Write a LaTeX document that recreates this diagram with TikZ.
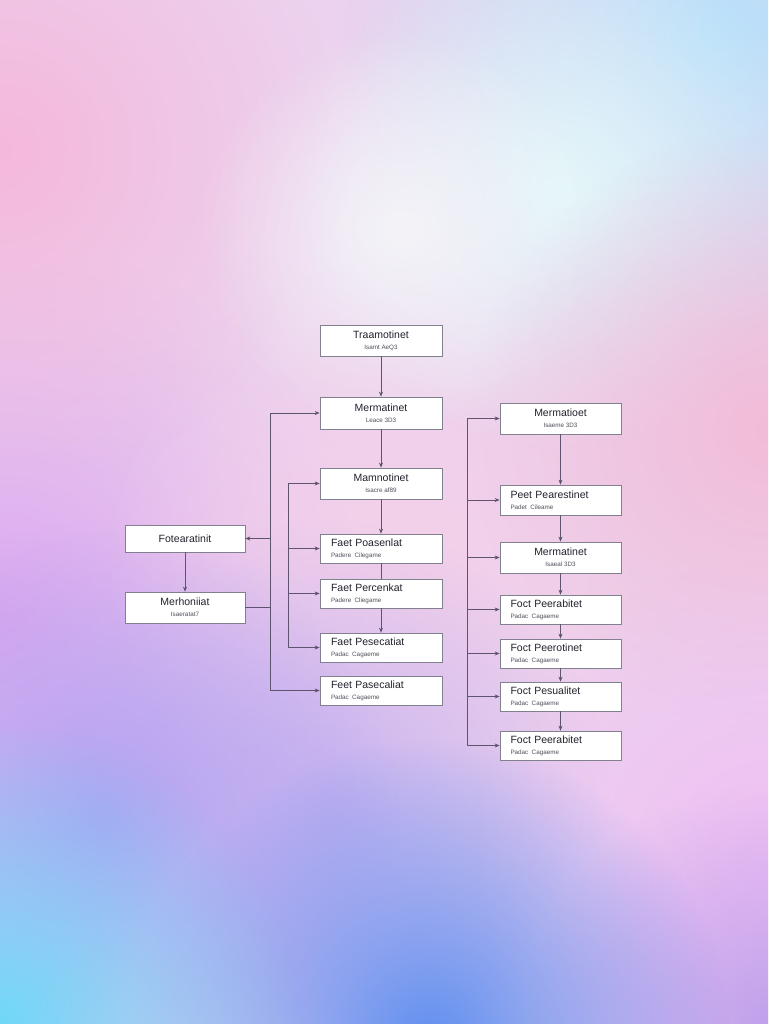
\documentclass[tikz,border=0pt]{standalone}
\usepackage{fontspec}
\setmainfont{Liberation Sans}
\usetikzlibrary{arrows.meta,fadings}
\definecolor{bgbase}{HTML}{ECD2EE}
\definecolor{cPinkTL}{HTML}{F5B8DC}
\definecolor{cBlueTR}{HTML}{B8E0FA}
\definecolor{cWhite}{HTML}{F4F4F8}
\definecolor{cCyanL}{HTML}{E4F8FA}
\definecolor{cPinkR}{HTML}{F2BCD8}
\definecolor{cPinkM}{HTML}{F4D0EA}
\definecolor{cLav}{HTML}{DCA8F0}
\definecolor{cLavM}{HTML}{C8B4F0}
\definecolor{cPurp}{HTML}{B0A2F2}
\definecolor{cCyanBL}{HTML}{70D8F8}
\definecolor{cBlueB}{HTML}{6090F0}
\definecolor{cLilac}{HTML}{F0C0F4}
\definecolor{cLilacB}{HTML}{C0A0EC}
\definecolor{edgec}{HTML}{80808E}
\definecolor{linec}{HTML}{5E5470}
\definecolor{titlec}{HTML}{22222E}
\definecolor{subc}{HTML}{50505C}
\tikzfading[name=blobfade, inner color=transparent!0, outer color=transparent!100]
\tikzset{
  box/.style={draw=edgec, line width=0.7pt, fill=white, rectangle, inner sep=0pt,
    minimum width=122pt, minimum height=30pt, align=center, text=titlec},
  lbox/.style={box, text width=100pt, align=left},
  conn/.style={draw=linec, line width=0.8pt},
  arr/.style={conn, -{Stealth[length=5pt,width=4pt]}},
  blob/.style={fill=#1, path fading=blobfade}
}
\newcommand{\ttl}[1]{{\fontsize{10.5}{12}\selectfont #1}}
\newcommand{\sbt}[1]{{\fontsize{6.3}{7}\selectfont\color{subc} #1}}
\begin{document}
\begin{tikzpicture}[x=1pt,y=1pt]
\useasboundingbox (0,0) rectangle (768,-1024);
% background
\fill[bgbase] (0,0) rectangle (768,-1024);
\begin{scope}
\clip (0,0) rectangle (768,-1024);
\fill[blob=cLav] (0,-620) circle (380);
\fill[blob=cPinkM] (400,-560) circle (300);
\fill[blob=cLavM] (330,-800) circle (280);
\fill[blob=cPinkTL] (0,-150) circle (340);
\fill[blob=cBlueTR] (720,-30) circle (380);
\fill[blob=cCyanL] (560,-190) circle (260);
\fill[blob=cWhite] (400,-230) circle (200);
\fill[blob=cPinkR] (768,-430) circle (300);
\fill[blob=cLilac] (768,-860) circle (300);
\fill[blob=cPurp] (100,-820) circle (300);
\fill[blob=cLilacB] (768,-1024) circle (240);
\fill[blob=cBlueB] (430,-1040) circle (300);
\fill[blob=cCyanBL] (0,-1024) circle (300);
\end{scope}
% centre column
\node[box, minimum height=31pt] (T1) at (381,-340.5) {\ttl{Traamotinet}\\[-1pt]\sbt{Isamt AeQ3}};
\node[box, minimum height=32pt] (M1) at (381,-413) {\ttl{Mermatinet}\\[-1pt]\sbt{Leace 3D3}};
\node[box, minimum height=31pt] (M2) at (381,-483.5) {\ttl{Mamnotinet}\\[-1pt]\sbt{Isacre af89}};
\node[lbox, minimum height=29pt] (F1) at (381,-548.5) {\ttl{Faet Poasenlat}\\[-1pt]\sbt{Padere Cilegame}};
\node[lbox, minimum height=29pt] (F2) at (381,-593.5) {\ttl{Faet Percenkat}\\[-1pt]\sbt{Padere Cliegame}};
\node[lbox, minimum height=29pt] (F3) at (381,-647.5) {\ttl{Faet Pesecatiat}\\[-1pt]\sbt{Padac Cagaeme}};
\node[lbox, minimum height=29pt] (F4) at (381,-690.5) {\ttl{Feet Pasecaliat}\\[-1pt]\sbt{Padac Cagaeme}};
% left column
\node[box, minimum width=120pt, minimum height=27pt] (L1) at (185,-538.5) {\ttl{Fotearatinit}};
\node[box, minimum width=120pt, minimum height=31pt] (L2) at (185,-607.5) {\ttl{Merhoniiat}\\[-1pt]\sbt{Isaeratat7}};
% right column
\node[box, minimum width=121pt, minimum height=31pt] (R1) at (560.5,-418.5) {\ttl{Mermatioet}\\[-1pt]\sbt{Isaeme 3D3}};
\node[lbox, minimum width=121pt, minimum height=30pt] (R2) at (560.5,-500) {\ttl{Peet Pearestinet}\\[-1pt]\sbt{Padet Cileame}};
\node[box, minimum width=121pt, minimum height=31pt] (R3) at (560.5,-557.5) {\ttl{Mermatinet}\\[-1pt]\sbt{Isaeal 3D3}};
\node[lbox, minimum width=121pt, minimum height=29pt] (R4) at (560.5,-609.5) {\ttl{Foct Peerabitet}\\[-1pt]\sbt{Padac Cagaeme}};
\node[lbox, minimum width=121pt, minimum height=29pt] (R5) at (560.5,-653.5) {\ttl{Foct Peerotinet}\\[-1pt]\sbt{Padac Cagaeme}};
\node[lbox, minimum width=121pt, minimum height=29pt] (R6) at (560.5,-696.5) {\ttl{Foct Pesualitet}\\[-1pt]\sbt{Padac Cagaeme}};
\node[lbox, minimum width=121pt, minimum height=29pt] (R7) at (560.5,-745.5) {\ttl{Foct Peerabitet}\\[-1pt]\sbt{Padac Cagaeme}};
% bus coordinates
\coordinate (b1t) at (270,-413);
\coordinate (b1b) at (270,-690.5);
\coordinate (b2t) at (288,-483.5);
\coordinate (b2b) at (288,-647.5);
\coordinate (b3t) at (467,-418.5);
\coordinate (b3b) at (467,-745.5);
% vertical chains
\draw[arr] (T1.south) -- (M1.north);
\draw[arr] (M1.south) -- (M2.north);
\draw[arr] (M2.south) -- (F1.north);
\draw[conn] (F1.south) -- (F2.north);
\draw[arr] (F2.south) -- (F3.north);
\draw[arr] (L1.south) -- (L2.north);
\draw[arr] (R1.south) -- (R2.north);
\draw[arr] (R2.south) -- (R3.north);
\draw[arr] (R3.south) -- (R4.north);
\draw[arr] (R4.south) -- (R5.north);
\draw[arr] (R5.south) -- (R6.north);
\draw[arr] (R6.south) -- (R7.north);
% bus 1
\draw[conn] (b1t) -- (b1b);
\draw[arr] (b1t) -- (M1.west);
\draw[arr] (b1b) -- (F4.west);
\draw[arr] (b1b |- L1.east) -- (L1.east);
\draw[conn] (L2.east) -- (b1b |- L2.east);
% bus 2
\draw[conn] (b2t) -- (b2b);
\draw[arr] (b2t) -- (M2.west);
\draw[arr] (b2b |- F1.west) -- (F1.west);
\draw[arr] (b2b |- F2.west) -- (F2.west);
\draw[arr] (b2b) -- (F3.west);
% bus 3
\draw[conn] (b3t) -- (b3b);
\draw[arr] (b3t) -- (R1.west);
\draw[arr] (b3b |- R2.west) -- (R2.west);
\draw[arr] (b3b |- R3.west) -- (R3.west);
\draw[arr] (b3b |- R4.west) -- (R4.west);
\draw[arr] (b3b |- R5.west) -- (R5.west);
\draw[arr] (b3b |- R6.west) -- (R6.west);
\draw[arr] (b3b) -- (R7.west);
\end{tikzpicture}
\end{document}
